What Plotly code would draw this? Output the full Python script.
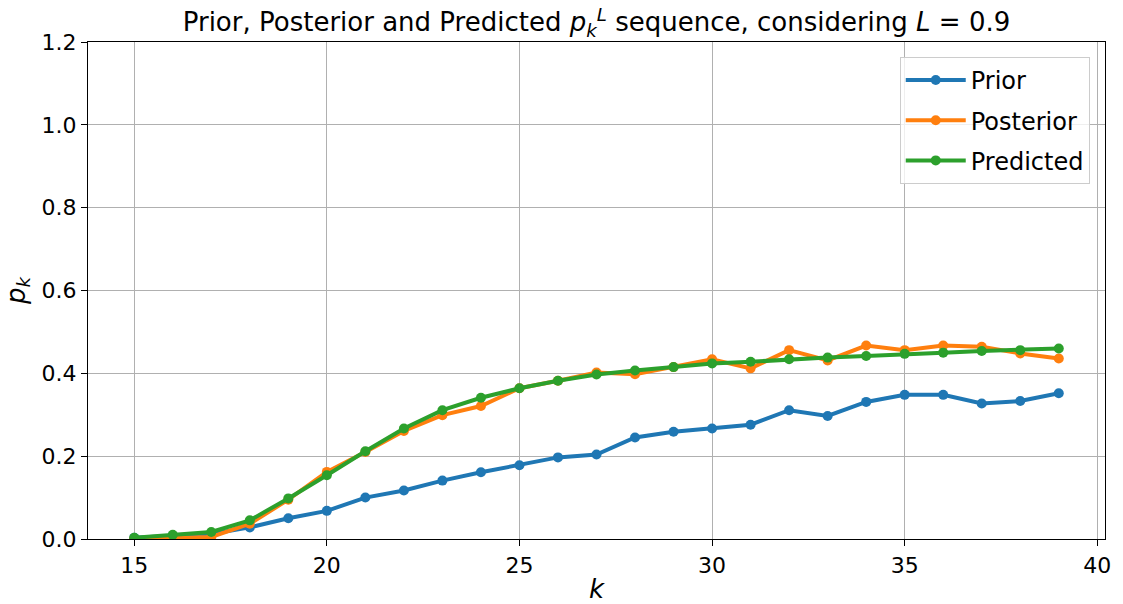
import plotly.graph_objects as go

k = list(range(15, 40))
prior = [0.003, 0.008, 0.012, 0.028, 0.050, 0.068, 0.100, 0.117, 0.141, 0.161, 0.178,
         0.197, 0.204, 0.245, 0.259, 0.267, 0.276, 0.311, 0.297, 0.331, 0.348, 0.348,
         0.327, 0.333, 0.352]
posterior = [0.0, 0.003, 0.005, 0.037, 0.095, 0.162, 0.210, 0.261, 0.299, 0.321, 0.364,
             0.382, 0.402, 0.398, 0.415, 0.434, 0.412, 0.456, 0.431, 0.467, 0.456, 0.467,
             0.464, 0.448, 0.436]
predicted = [0.003, 0.010, 0.017, 0.045, 0.098, 0.154, 0.212, 0.267, 0.311, 0.341, 0.364,
             0.382, 0.397, 0.407, 0.415, 0.424, 0.428, 0.434, 0.438, 0.442, 0.447, 0.450,
             0.454, 0.456, 0.460]

series = [("Prior", prior, "#1f77b4"),
          ("Posterior", posterior, "#ff7f0e"),
          ("Predicted", predicted, "#2ca02c")]

FONT = "DejaVu Sans"
fig = go.Figure()
for name, vals, col in series:
    fig.add_trace(go.Scatter(x=k, y=vals, name=name, mode="lines+markers",
                             legendgroup=name,
                             line=dict(color=col, width=4),
                             marker=dict(color=col, size=10)))

axis_common = dict(showline=True, linecolor="black", linewidth=1.2, mirror=True,
                   ticks="outside", ticklen=6, tickcolor="black", tickwidth=1.2,
                   showgrid=True, gridcolor="#b0b0b0", gridwidth=1, zeroline=False,
                   automargin=False,
                   tickfont=dict(family=FONT, size=22, color="black"))

fig.update_layout(
    width=1123, height=604,
    margin=dict(l=88, r=18, t=42, b=65),
    paper_bgcolor="white", plot_bgcolor="white",
    font=dict(family=FONT, color="black"),
    title=dict(text="Prior, Posterior and Predicted <i>p</i><sub><i>k</i></sub><sup><i>L</i></sup> sequence, considering <i>L</i> = 0.9",
               x=0.5, xref="paper", xanchor="center", y=0.963, yanchor="middle",
               font=dict(family=FONT, size=26, color="black")),
    xaxis=dict(range=[13.8, 40.2], tickvals=[15, 20, 25, 30, 35, 40],
               title=dict(text="<i>k</i>", font=dict(family=FONT, size=26), standoff=4),
               **axis_common),
    yaxis=dict(range=[0, 1.2], tickvals=[0, 0.2, 0.4, 0.6, 0.8, 1.0, 1.2], tickformat=".1f",
               title=dict(text="<i>p</i><sub><i>k</i></sub>", font=dict(family=FONT, size=26), standoff=8),
               **axis_common),
    legend=dict(x=0.985, y=0.97, xanchor="right", yanchor="top",
                bgcolor="rgba(255,255,255,0.8)", bordercolor="#cccccc", borderwidth=1,
                font=dict(family=FONT, size=24, color="black"),
                itemwidth=60, tracegroupgap=6),
)

fig.write_html("out.html")
